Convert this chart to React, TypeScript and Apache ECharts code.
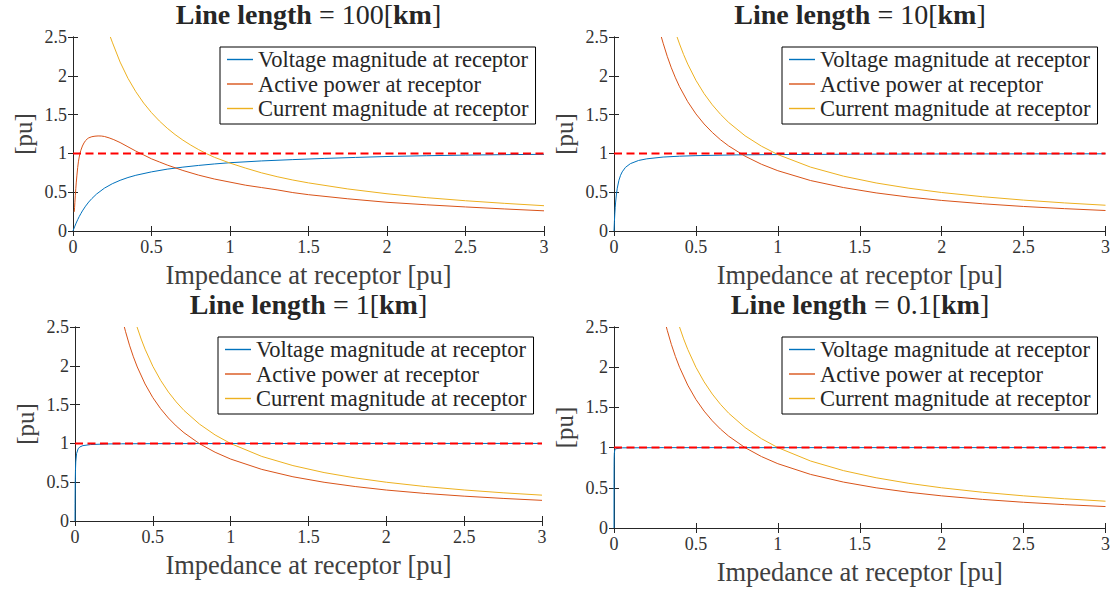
import React, { useEffect, useRef } from "react";
import * as echarts from "echarts";

const FONT = '"Liberation Serif", "Times New Roman", serif';
const INK = "#262626";
const LABEL_INK = "#333333";
const NAME_INK = "#404040";

const seriesNames = [
  "Voltage magnitude at receptor",
  "Active power at receptor",
  "Current magnitude at receptor",
];
const seriesColors = ["#0072BD", "#D95319", "#EDB120"];
const lineLengths = ["100", "10", "1", "0.1"];

// ---- Line length = 100 km ----
const v100Z = [0, 0.005, 0.01, 0.02, 0.03, 0.04, 0.05, 0.06, 0.08, 0.1, 0.12, 0.15, 0.2, 0.25, 0.3, 0.35, 0.4, 0.5, 0.6, 0.7, 0.8, 0.9, 1.0, 1.2, 1.4, 1.6, 1.8, 2.0, 2.25, 2.5, 2.75, 3.0];
const v100 = [0, 0.027, 0.053, 0.102, 0.146, 0.187, 0.224, 0.259, 0.32, 0.373, 0.418, 0.476, 0.552, 0.609, 0.653, 0.689, 0.718, 0.762, 0.797, 0.823, 0.845, 0.864, 0.88, 0.903, 0.92, 0.935, 0.948, 0.96, 0.97, 0.978, 0.984, 0.988];
const p100Z = [0.008, 0.01, 0.012, 0.015, 0.018, 0.021, 0.025, 0.03, 0.035, 0.042, 0.05, 0.06, 0.07, 0.08, 0.09, 0.1, 0.12, 0.14, 0.16, 0.18, 0.2, 0.23, 0.26, 0.3, 0.35, 0.4, 0.45, 0.5, 0.55, 0.6, 0.65, 0.7, 0.8, 0.9, 1.0, 1.1, 1.2, 1.3, 1.4, 1.5, 1.75, 2.0, 2.25, 2.5, 2.75, 3.0];
const p100 = [0.247, 0.3, 0.37, 0.46, 0.55, 0.63, 0.72, 0.82, 0.9, 0.98, 1.04, 1.095, 1.135, 1.165, 1.185, 1.2, 1.215, 1.222, 1.225, 1.224, 1.218, 1.2, 1.177, 1.14, 1.085, 1.03, 0.98, 0.93, 0.89, 0.85, 0.815, 0.78, 0.72, 0.67, 0.63, 0.59, 0.56, 0.53, 0.495, 0.468, 0.415, 0.37, 0.338, 0.31, 0.284, 0.26];
const i100Z = [0.238, 0.25, 0.3, 0.35, 0.4, 0.45, 0.5, 0.55, 0.6, 0.65, 0.7, 0.75, 0.8, 0.85, 0.9, 1.0, 1.1, 1.2, 1.3, 1.4, 1.5, 1.75, 2.0, 2.25, 2.5, 2.75, 3.0];
const i100 = [2.5, 2.434, 2.177, 1.968, 1.795, 1.649, 1.525, 1.418, 1.325, 1.243, 1.171, 1.107, 1.049, 0.997, 0.95, 0.875, 0.81, 0.75, 0.7, 0.657, 0.62, 0.542, 0.48, 0.43, 0.39, 0.356, 0.326];

// ---- Line length = 10 km ----
const v10Z = [0, 0.0025, 0.005, 0.0075, 0.01, 0.015, 0.02, 0.03, 0.04, 0.05, 0.07, 0.1, 0.15, 0.2, 0.3, 0.4, 0.5, 0.75, 1.0, 1.5, 2.0, 3.0];
const v10 = [0, 0.124, 0.224, 0.306, 0.373, 0.476, 0.552, 0.653, 0.718, 0.762, 0.82, 0.868, 0.909, 0.93, 0.953, 0.964, 0.971, 0.981, 0.985, 0.99, 0.993, 0.995];
const p10Z = [0.289, 0.3, 0.325, 0.35, 0.375, 0.4, 0.45, 0.5, 0.55, 0.6, 0.65, 0.7, 0.8, 0.9, 1.0, 1.2, 1.4, 1.6, 1.8, 2.0, 2.25, 2.5, 2.75, 3.0];
const p10 = [2.5, 2.42, 2.251, 2.103, 1.974, 1.859, 1.666, 1.509, 1.379, 1.27, 1.176, 1.096, 0.964, 0.86, 0.777, 0.65, 0.56, 0.491, 0.437, 0.394, 0.351, 0.316, 0.288, 0.264];
const i10Z = [0.385, 0.4, 0.425, 0.45, 0.5, 0.55, 0.6, 0.65, 0.7, 0.8, 0.9, 1.0, 1.2, 1.4, 1.6, 1.8, 2.0, 2.25, 2.5, 2.75, 3.0];
const i10 = [2.5, 2.41, 2.273, 2.151, 1.942, 1.77, 1.626, 1.504, 1.399, 1.227, 1.093, 0.985, 0.823, 0.707, 0.619, 0.551, 0.496, 0.442, 0.398, 0.362, 0.332];

// ---- Line length = 1 km ----
const v1Z = [0, 0.00025, 0.0005, 0.001, 0.0015, 0.002, 0.003, 0.005, 0.01, 0.02, 0.03, 0.05, 0.1, 0.2, 0.3, 0.5, 1.0, 3.0];
const v1 = [0, 0.124, 0.224, 0.373, 0.476, 0.552, 0.653, 0.762, 0.868, 0.93, 0.953, 0.971, 0.985, 0.993, 0.995, 0.997, 0.9985, 0.9995];
const p1Z = [0.317, 0.325, 0.35, 0.375, 0.4, 0.45, 0.5, 0.55, 0.6, 0.65, 0.7, 0.8, 0.9, 1.0, 1.2, 1.4, 1.6, 1.8, 2.0, 2.25, 2.5, 2.75, 3.0];
const p1 = [2.5, 2.439, 2.266, 2.116, 1.985, 1.766, 1.59, 1.447, 1.327, 1.225, 1.138, 0.996, 0.886, 0.798, 0.665, 0.57, 0.499, 0.444, 0.399, 0.355, 0.32, 0.291, 0.266];
const i1Z = [0.3985, 0.425, 0.45, 0.5, 0.55, 0.6, 0.65, 0.7, 0.8, 0.9, 1.0, 1.2, 1.4, 1.6, 1.8, 2.0, 2.25, 2.5, 2.75, 3.0];
const i1 = [2.5, 2.345, 2.215, 1.994, 1.813, 1.662, 1.535, 1.425, 1.248, 1.109, 0.9985, 0.832, 0.714, 0.624, 0.555, 0.4996, 0.444, 0.3998, 0.3634, 0.3332];

// ---- Line length = 0.1 km ----
const v01Z = [0, 0.0001, 0.0002, 0.0005, 0.001, 0.002, 0.005, 0.01, 0.05, 0.3, 3.0];
const v01 = [0, 0.373, 0.552, 0.762, 0.868, 0.93, 0.971, 0.985, 0.997, 0.9995, 1.0];
const p01Z = [0.3197, 0.325, 0.35, 0.375, 0.4, 0.45, 0.5, 0.55, 0.6, 0.65, 0.7, 0.8, 0.9, 1.0, 1.2, 1.4, 1.6, 1.8, 2.0, 2.25, 2.5, 2.75, 3.0];
const p01 = [2.5, 2.459, 2.284, 2.132, 1.999, 1.777, 1.599, 1.454, 1.333, 1.23, 1.142, 0.9996, 0.8886, 0.7998, 0.6665, 0.5713, 0.4999, 0.4444, 0.3999, 0.3555, 0.32, 0.2909, 0.2667];
const i01Z = [0.3999, 0.425, 0.45, 0.5, 0.55, 0.6, 0.65, 0.7, 0.8, 0.9, 1.0, 1.2, 1.4, 1.6, 1.8, 2.0, 2.25, 2.5, 2.75, 3.0];
const i01 = [2.5, 2.352, 2.222, 1.999, 1.818, 1.666, 1.538, 1.428, 1.25, 1.111, 0.9999, 0.833, 0.714, 0.625, 0.5555, 0.5, 0.4444, 0.4, 0.3636, 0.3333];

// reference (dashed) line at 1 pu
const refZ = [0, 3];
const refV = [1, 1];

const zip = (xs: number[], ys: number[]) => xs.map((x, k) => [x, ys[k]]);

const panelData = [
  [zip(v100Z, v100), zip(p100Z, p100), zip(i100Z, i100)],
  [zip(v10Z, v10), zip(p10Z, p10), zip(i10Z, i10)],
  [zip(v1Z, v1), zip(p1Z, p1), zip(i1Z, i1)],
  [zip(v01Z, v01), zip(p01Z, p01), zip(i01Z, i01)],
];

const layout = [
  { left: 73, top: 37, width: 471, height: 194, lx: 220, ly: 47, tx: 308.5, ty: 14 },
  { left: 614, top: 37, width: 492, height: 194, lx: 782, ly: 47, tx: 860, ty: 14 },
  { left: 75, top: 327, width: 467, height: 194, lx: 218, ly: 337, tx: 308.5, ty: 304 },
  { left: 614, top: 327, width: 493, height: 201, lx: 782, ly: 337, tx: 860, ty: 304 },
];

function buildOption() {
  const grid: any[] = [];
  const xAxis: any[] = [];
  const yAxis: any[] = [];
  const series: any[] = [];
  const legend: any[] = [];
  const graphic: any[] = [];
  const axisLine = { show: true, lineStyle: { color: INK, width: 1 } };
  const axisTick = { show: true, inside: true, length: 5, lineStyle: { color: INK, width: 1 } };

  layout.forEach((L, i) => {
    grid.push({ left: L.left, top: L.top, width: L.width, height: L.height, containLabel: false });
    const xBase = { type: "value", gridIndex: i, min: 0, max: 3, interval: 0.5, splitLine: { show: false }, axisLine, axisTick };
    const yBase = { type: "value", gridIndex: i, min: 0, max: 2.5, interval: 0.5, splitLine: { show: false }, axisLine, axisTick };
    xAxis.push({
      ...xBase,
      position: "bottom",
      axisLabel: { color: LABEL_INK, fontFamily: FONT, fontSize: 18, margin: 7 },
      name: "Impedance at receptor [pu]",
      nameLocation: "middle",
      nameGap: 30,
      nameTextStyle: { color: NAME_INK, fontFamily: FONT, fontSize: 26.5 },
    });
    xAxis.push({ ...xBase, position: "top", axisLabel: { show: false } });
    yAxis.push({
      ...yBase,
      position: "left",
      axisLabel: { color: LABEL_INK, fontFamily: FONT, fontSize: 18, margin: 6 },
      name: "[pu]",
      nameLocation: "middle",
      nameGap: 37,
      nameTextStyle: { color: NAME_INK, fontFamily: FONT, fontSize: 25 },
    });
    yAxis.push({ ...yBase, position: "right", axisLabel: { show: false } });

    panelData[i].forEach((data, s) => {
      series.push({
        type: "line",
        name: seriesNames[s],
        xAxisIndex: 2 * i,
        yAxisIndex: 2 * i,
        data,
        symbol: "none",
        smooth: false,
        clip: true,
        lineStyle: { color: seriesColors[s], width: 1 },
        itemStyle: { color: seriesColors[s] },
      });
    });
    series.push({
      type: "line",
      name: "ref" + i,
      xAxisIndex: 2 * i,
      yAxisIndex: 2 * i,
      data: zip(refZ, refV),
      symbol: "none",
      lineStyle: { color: "#ff0000", width: 2, type: [8, 4.5] },
      z: 5,
    });

    legend.push({
      show: true,
      orient: "vertical",
      left: L.lx,
      top: L.ly,
      data: seriesNames,
      backgroundColor: "#ffffff",
      borderColor: "#000000",
      borderWidth: 1,
      borderRadius: 0,
      padding: [1, 7, 4, 7],
      itemGap: 1.5,
      itemWidth: 26,
      itemHeight: 1.4,
      icon: "rect",
      selectedMode: false,
      textStyle: { color: INK, fontFamily: FONT, fontSize: 22.5, lineHeight: 22 },
    });

    graphic.push({
      type: "text",
      x: L.tx,
      y: L.ty,
      style: {
        text: "{b|Line length} = " + lineLengths[i] + "[{b|km}]",
        fill: INK,
        fontFamily: FONT,
        fontSize: 28,
        align: "center",
        verticalAlign: "middle",
        textAlign: "center",
        textVerticalAlign: "middle",
        rich: { b: { fontFamily: FONT, fontSize: 28, fontWeight: "bold", fill: INK } },
      },
    });
  });

  return {
    animation: false,
    backgroundColor: "#ffffff",
    grid,
    xAxis,
    yAxis,
    series,
    legend,
    graphic,
  };
}

export default function App() {
  const ref = useRef<HTMLDivElement>(null);
  useEffect(() => {
    if (!ref.current) return;
    const chart = echarts.init(ref.current, undefined, { renderer: "svg" });
    chart.setOption(buildOption() as any);
    return () => chart.dispose();
  }, []);
  return (
    <div
      ref={ref}
      style={{ position: "fixed", left: 0, top: 0, width: 1113, height: 589, background: "#fff" }}
    />
  );
}
